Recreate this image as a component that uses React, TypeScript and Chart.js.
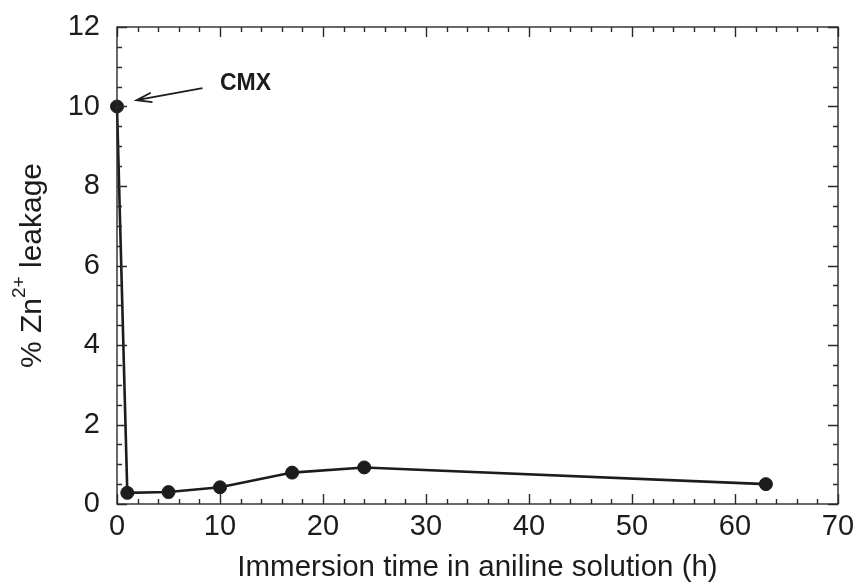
import React, { useEffect, useRef } from "react";
import { Chart, registerables } from "chart.js";

Chart.register(...registerables);

const hours = [0, 1, 5, 10, 17, 24, 63];
const leakage = [10.0, 0.28, 0.3, 0.42, 0.79, 0.92, 0.5];
const xTicks = [0, 10, 20, 30, 40, 50, 60, 70];
const yTicks = [0, 2, 4, 6, 8, 10, 12];
const xTitle = "Immersion time in aniline solution (h)";
const yTitleParts = ["% Zn", "2+", " leakage"];
const noteLabel = "CMX";
const noteText = [10.0, 10.58];
const noteArrowFrom = [8.3, 10.46];
const noteArrowTo = [1.9, 10.16];

const FONT = "'Liberation Sans', Arial, sans-serif";
const INK = "#1c1c1c";

const framePlugin = {
  id: "frame",
  afterDraw(chart: any) {
    const { ctx, chartArea, scales } = chart;
    const { left, right, top, bottom } = chartArea;
    const x = scales.x;
    const y = scales.y;
    ctx.save();
    ctx.strokeStyle = "#2a2a2a";
    ctx.lineWidth = 1.4;
    ctx.strokeRect(left, top, right - left, bottom - top);
    ctx.beginPath();
    for (let v = 0; v <= 70; v += 2) {
      const px = Math.round(x.getPixelForValue(v)) + 0.5;
      const len = v % 10 === 0 ? 10 : 5;
      ctx.moveTo(px, bottom);
      ctx.lineTo(px, bottom - len);
      ctx.moveTo(px, top);
      ctx.lineTo(px, top + len);
    }
    for (let i = 0; i <= 24; i++) {
      const v = i * 0.5;
      const py = Math.round(y.getPixelForValue(v)) + 0.5;
      const len = i % 4 === 0 ? 10 : 5;
      ctx.moveTo(left, py);
      ctx.lineTo(left + len, py);
      ctx.moveTo(right, py);
      ctx.lineTo(right - len, py);
    }
    ctx.stroke();

    // annotation
    ctx.fillStyle = INK;
    ctx.font = `bold 23px ${FONT}`;
    ctx.textBaseline = "middle";
    ctx.textAlign = "left";
    ctx.fillText(noteLabel, x.getPixelForValue(noteText[0]), y.getPixelForValue(noteText[1]));
    const ax0 = x.getPixelForValue(noteArrowFrom[0]);
    const ay0 = y.getPixelForValue(noteArrowFrom[1]);
    const ax1 = x.getPixelForValue(noteArrowTo[0]);
    const ay1 = y.getPixelForValue(noteArrowTo[1]);
    ctx.strokeStyle = INK;
    ctx.lineWidth = 1.8;
    ctx.beginPath();
    ctx.moveTo(ax0, ay0);
    ctx.lineTo(ax1, ay1);
    const ang = Math.atan2(ay0 - ay1, ax0 - ax1);
    const hl = 16;
    ctx.moveTo(ax1 + hl * Math.cos(ang - 0.3), ay1 + hl * Math.sin(ang - 0.3));
    ctx.lineTo(ax1, ay1);
    ctx.lineTo(ax1 + hl * Math.cos(ang + 0.3), ay1 + hl * Math.sin(ang + 0.3));
    ctx.stroke();

    // y title with superscript
    const cy = (top + bottom) / 2;
    ctx.save();
    ctx.translate(33, cy);
    ctx.rotate(-Math.PI / 2);
    ctx.textBaseline = "middle";
    ctx.textAlign = "left";
    ctx.font = `30px ${FONT}`;
    const w0 = ctx.measureText(yTitleParts[0]).width;
    const w2 = ctx.measureText(yTitleParts[2]).width;
    ctx.font = `19px ${FONT}`;
    const w1 = ctx.measureText(yTitleParts[1]).width;
    const total = w0 + w1 + w2;
    let sx = -total / 2;
    ctx.fillStyle = INK;
    ctx.font = `30px ${FONT}`;
    ctx.fillText(yTitleParts[0], sx, 0);
    sx += w0;
    ctx.font = `19px ${FONT}`;
    ctx.fillText(yTitleParts[1], sx, -13);
    sx += w1;
    ctx.font = `30px ${FONT}`;
    ctx.fillText(yTitleParts[2], sx, 0);
    ctx.restore();
    ctx.restore();
  },
};

export default function App() {
  const ref = useRef<HTMLCanvasElement | null>(null);
  useEffect(() => {
    document.body.style.margin = "0";
    const canvas = ref.current;
    if (!canvas) return;
    const chart = new Chart(canvas, {
      type: "scatter",
      data: {
        datasets: [
          {
            data: hours.map((h, i) => ({ x: h, y: leakage[i] })),
            showLine: true,
            borderColor: INK,
            borderWidth: 2.6,
            backgroundColor: INK,
            pointBackgroundColor: INK,
            pointBorderColor: INK,
            pointRadius: 6.5,
            pointBorderWidth: 1,
            clip: false,
          },
        ],
      },
      options: {
        animation: false,
        responsive: true,
        maintainAspectRatio: false,
        layout: { padding: { top: 27, right: 23, left: 0, bottom: 0 } },
        plugins: { legend: { display: false }, tooltip: { enabled: false } },
        scales: {
          x: {
            type: "linear",
            min: 0,
            max: 70,
            afterBuildTicks: (s: any) => {
              s.ticks = xTicks.map((v) => ({ value: v }));
            },
            afterFit: (s: any) => {
              s.height = 83;
              s.paddingLeft = 0;
              s.paddingRight = 0;
            },
            grid: { display: false, drawTicks: false },
            border: { display: false },
            ticks: {
              color: INK,
              font: { family: FONT, size: 29 },
              padding: 6,
              maxRotation: 0,
            },
            title: {
              display: true,
              text: xTitle,
              color: INK,
              font: { family: FONT, size: 29.5 },
              padding: { top: 0, bottom: 1 },
            },
          },
          y: {
            type: "linear",
            min: 0,
            max: 12,
            afterBuildTicks: (s: any) => {
              s.ticks = yTicks.map((v) => ({ value: v }));
            },
            afterFit: (s: any) => {
              s.width = 117;
              s.paddingTop = 0;
              s.paddingBottom = 0;
            },
            grid: { display: false, drawTicks: false },
            border: { display: false },
            ticks: {
              color: INK,
              font: { family: FONT, size: 29 },
              padding: 17,
            },
          },
        },
      },
      plugins: [framePlugin],
    });
    return () => chart.destroy();
  }, []);
  return (
    <div style={{ width: 861, height: 587, position: "relative", background: "#fff" }}>
      <canvas ref={ref} />
    </div>
  );
}
